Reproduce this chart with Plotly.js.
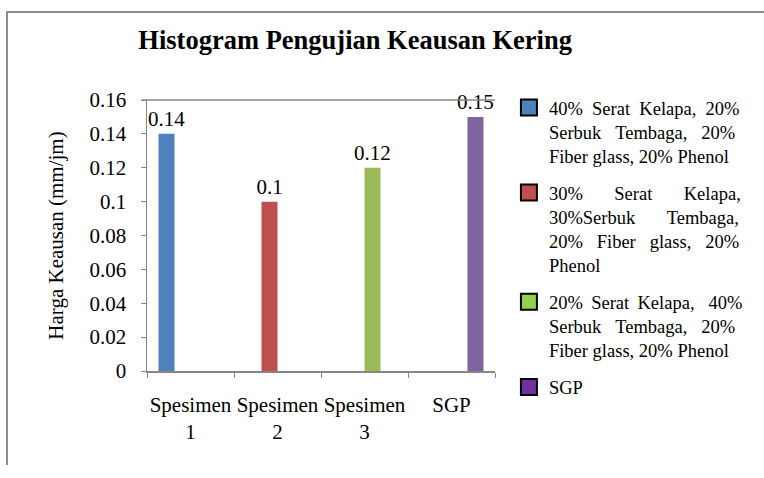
<!DOCTYPE html>
<html>
<head>
<meta charset="utf-8">
<script src="https://cdn.plot.ly/plotly-3.0.1.min.js"></script>
<style>html,body{margin:0;padding:0;background:#fff;}#chart{width:764px;height:478px;}</style>
</head>
<body>
<div id="chart"></div>
<script>
const categories = ['Spesimen 1', 'Spesimen 2', 'Spesimen 3', 'SGP'];
const tickLabels = ['Spesimen<br>1', 'Spesimen<br>2', 'Spesimen<br>3', 'SGP'];
const values = [0.14, 0.1, 0.12, 0.15];
const N = '\u00a0', T = '\u2009';
const seriesNames = [
  '40%' + N + N + 'Serat' + N + N + 'Kelapa,' + N + N + '20%<br>Serbuk' + N + N + N + 'Tembaga,' + N + N + N + '20%<br>Fiber glass, 20% Phenol',
  '30%' + N.repeat(6) + T + 'Serat' + N.repeat(6) + T + 'Kelapa,<br>30%Serbuk' + N.repeat(6) + T + 'Tembaga,<br>20%' + N + N + N + 'Fiber' + N + N + N + 'glass,' + N + N + N + '20%<br>Phenol',
  '20%' + N + T + 'Serat' + N + T + 'Kelapa,' + N + N + N + '40%<br>Serbuk' + N + N + N + 'Tembaga,' + N + N + N + '20%<br>Fiber glass, 20% Phenol',
  'SGP'
];
const barColors = ['#4F81BD', '#C0504D', '#9BBB59', '#8064A2'];
const legendColors = ['#4F81BD', '#C0504D', '#92D050', '#7030A0'];

const font = '"Liberation Serif", "Times New Roman", serif';
const traces = [];
categories.forEach((c, i) => {
  traces.push({
    type: 'bar',
    x: categories,
    y: values.map((v, j) => (j === i ? v : null)),
    marker: {color: barColors[i]},
    texttemplate: '%{y}',
    textposition: 'outside',
    constraintext: 'none',
    cliponaxis: false,
    textfont: {family: font, size: 21, color: '#000'},
    showlegend: false,
    hoverinfo: 'skip'
  });
});
categories.forEach((c, i) => {
  traces.push({
    type: 'scatter',
    mode: 'markers',
    x: [null], y: [null],
    name: seriesNames[i],
    legendgroup: 'g' + i,
    marker: {symbol: 'square', size: 16, color: legendColors[i], line: {color: '#000', width: 2}}
  });
});

const axisGrey = '#868686';
const layout = {
  width: 764, height: 478,
  margin: {l: 147, r: 269, t: 100, b: 107},
  paper_bgcolor: '#fff', plot_bgcolor: '#fff',
  font: {family: font, size: 21, color: '#000'},
  title: {
    text: '<b>Histogram Pengujian Keausan Kering</b>',
    font: {family: font, size: 26.5, color: '#000'},
    xref: 'paper', x: 0.598, xanchor: 'center',
    yref: 'container', y: 0.916, yanchor: 'middle'
  },
  barmode: 'group', bargap: 0.265, bargroupgap: 0,
  xaxis: {
    type: 'category',
    tickvals: categories, ticktext: tickLabels,
    tickangle: 0,
    tickson: 'boundaries', ticks: 'outside', ticklen: 5, tickcolor: axisGrey,
    showline: true, linecolor: axisGrey, linewidth: 1.5,
    showgrid: false, zeroline: false,
    ticklabelstandoff: 14,
    tickfont: {family: font, size: 21, color: '#000'},
    fixedrange: true
  },
  yaxis: {
    range: [0, 0.16], dtick: 0.02,
    ticks: 'outside', ticklen: 5, tickcolor: axisGrey,
    showline: true, linecolor: axisGrey, linewidth: 1.5,
    showgrid: false, zeroline: false,
    ticklabelstandoff: 10,
    tickfont: {family: font, size: 21, color: '#000'},
    title: {text: 'Harga Keausan (mm/jm)', font: {family: font, size: 21, color: '#000'}, standoff: 20},
    automargin: false,
    fixedrange: true
  },
  legend: {
    x: 1.04, xanchor: 'left', y: 1.041, yanchor: 'top',
    font: {family: font, size: 18.5, color: '#000'},
    tracegroupgap: 10, valign: 'top', maxheight: 440,
    bgcolor: 'rgba(0,0,0,0)'
  },
  shapes: [
    {type: 'line', xref: 'paper', yref: 'paper', x0: -0.015, x1: 1, y0: 1, y1: 1, line: {color: axisGrey, width: 1.5}},
    {type: 'line', xref: 'paper', yref: 'paper', x0: -0.405, x1: 1.78, y0: 1.3247, y1: 1.3247, line: {color: '#8c8c8c', width: 2}},
    {type: 'line', xref: 'paper', yref: 'paper', x0: -0.4023, x1: -0.4023, y0: 1.3247, y1: -0.347, line: {color: '#8c8c8c', width: 2}}
  ]
};

Plotly.newPlot('chart', traces, layout, {staticPlot: true, displayModeBar: false});
</script>
</body>
</html>
